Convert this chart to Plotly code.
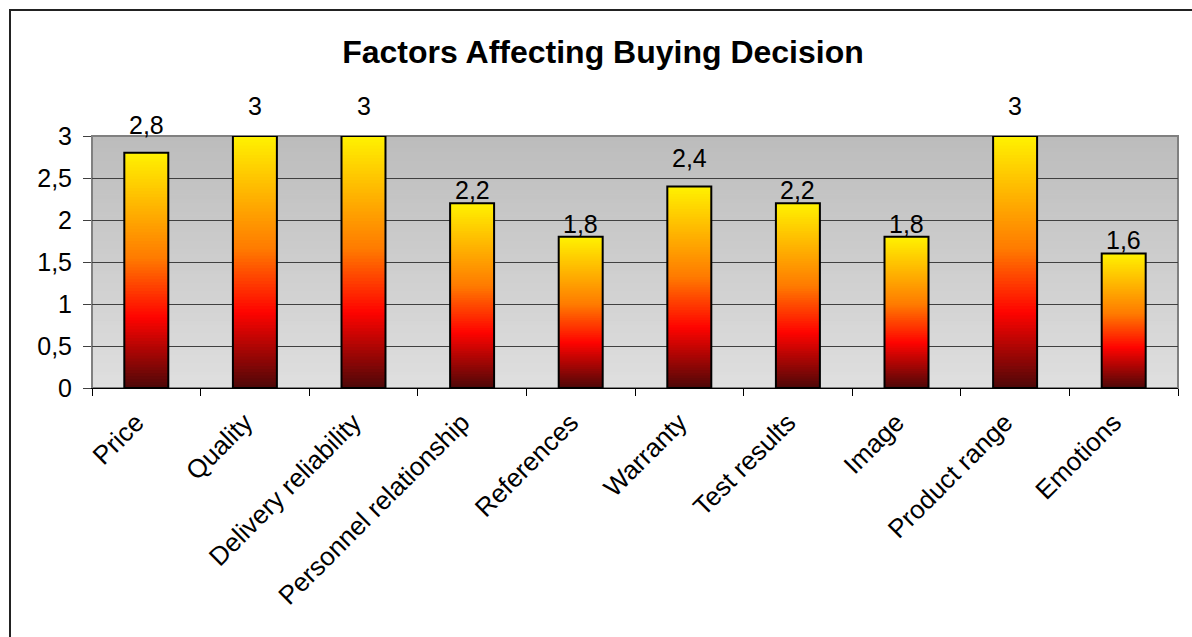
import plotly.graph_objects as go
import numpy as np

categories = ["Price", "Quality", "Delivery reliability", "Personnel relationship",
              "References", "Warranty", "Test results", "Image", "Product range", "Emotions"]
values = [2.8, 3, 3, 2.2, 1.8, 2.4, 2.2, 1.8, 3, 1.6]
y_ticks = [0, 0.5, 1, 1.5, 2, 2.5, 3]
title_text = "Factors Affecting Buying Decision"

# style: vertical distance (px) of each data label's centre above its bar top
label_offsets_px = [28, 30, 30, 13, 13, 28, 13, 13, 30, 14]

FONT = "Arial, Liberation Sans, sans-serif"

# Excel "Fire" preset gradient, bottom -> top
fire_stops = [(0.0, (77, 8, 8)), (0.30, (255, 3, 0)), (0.55, (255, 122, 0)), (1.0, (255, 242, 0))]


def fire(t):
    for (t0, c0), (t1, c1) in zip(fire_stops[:-1], fire_stops[1:]):
        if t <= t1:
            f = (t - t0) / (t1 - t0)
            return "rgb(%d,%d,%d)" % tuple(round(a + (b - a) * f) for a, b in zip(c0, c1))
    return "rgb(%d,%d,%d)" % fire_stops[-1][1]


BAR_W = 0.405
N = 80
vals = np.array(values, dtype=float)
fig = go.Figure()
for k in range(N):
    frac = (N - k) / N
    tmid = (N - k - 0.5) / N
    fig.add_trace(go.Bar(
        x=categories, y=vals * frac, width=BAR_W,
        marker=dict(color=fire(tmid), line=dict(width=0)),
        hoverinfo="skip", showlegend=False,
    ))
fig.add_trace(go.Bar(
    x=categories, y=values, width=BAR_W,
    marker=dict(color="rgba(0,0,0,0)", line=dict(color="black", width=2)),
    showlegend=False,
))

# data labels
for c, v, off in zip(categories, values, label_offsets_px):
    fig.add_annotation(x=c, y=v, text=("%g" % v).replace(".", ","), showarrow=False,
                       yanchor="middle", yshift=off,
                       font=dict(family=FONT, size=25, color="black"))

# plot-area gradient background (gray, darker at top)
top_c = np.array([188, 188, 188])
bot_c = np.array([223, 223, 223])
M = 60
shapes = []
for i in range(M):
    f = (i + 0.5) / M
    c = bot_c + (top_c - bot_c) * f
    shapes.append(dict(type="rect", xref="x domain", yref="y domain",
                       x0=0, x1=1, y0=i / M, y1=(i + 1) / M + 0.002,
                       fillcolor="rgb(%d,%d,%d)" % tuple(c.round().astype(int)),
                       line=dict(width=0), layer="below"))
# plot-area border
shapes.append(dict(type="rect", xref="x domain", yref="y domain", x0=0, x1=1, y0=0, y1=1,
                   line=dict(color="#808080", width=2), fillcolor="rgba(0,0,0,0)", layer="below"))

W, H = 1192, 637
ml, mr, mt, mb = 92, 14, 136, 249
pw, ph = W - ml - mr, H - mt - mb
# outer chart frame (starts at 10px from top/left, runs past right/bottom edges)
shapes.append(dict(type="rect", xref="paper", yref="paper",
                   x0=(10 - ml) / pw, x1=(W + 5 - ml) / pw,
                   y0=(ph + mt - (H + 5)) / ph, y1=(ph + mt - 10) / ph,
                   line=dict(color="#222222", width=2), fillcolor="rgba(0,0,0,0)"))

fig.update_layout(
    width=W, height=H,
    margin=dict(l=ml, r=mr, t=mt, b=mb, autoexpand=False),
    barmode="overlay",
    paper_bgcolor="white",
    plot_bgcolor="rgb(205,205,205)",
    separators=",.",
    shapes=shapes,
    font=dict(family=FONT, color="black"),
    title=dict(text="<b>" + title_text + "</b>", xref="container", yref="container",
               x=603 / W, y=1 - 52 / H, xanchor="center", yanchor="middle",
               font=dict(family=FONT, size=32, color="black")),
    xaxis=dict(type="category", tickangle=-45, tickfont=dict(size=26, family=FONT),
               ticks="outside", tickson="boundaries", ticklen=7, tickcolor="black",
               ticklabelshift=-10, ticklabelstandoff=8,
               showline=True, linecolor="black", linewidth=1, showgrid=False,
               automargin=False, range=[-0.5, len(categories) - 0.5]),
    yaxis=dict(range=[0, 3], tickvals=y_ticks, tickfont=dict(size=25, family=FONT),
               ticks="outside", ticklen=8, tickcolor="#404040", ticklabelstandoff=6,
               showgrid=True, gridcolor="#404040", gridwidth=1,
               showline=True, linecolor="#808080", linewidth=1,
               zeroline=False, automargin=False),
)

fig.write_html("out.html")
